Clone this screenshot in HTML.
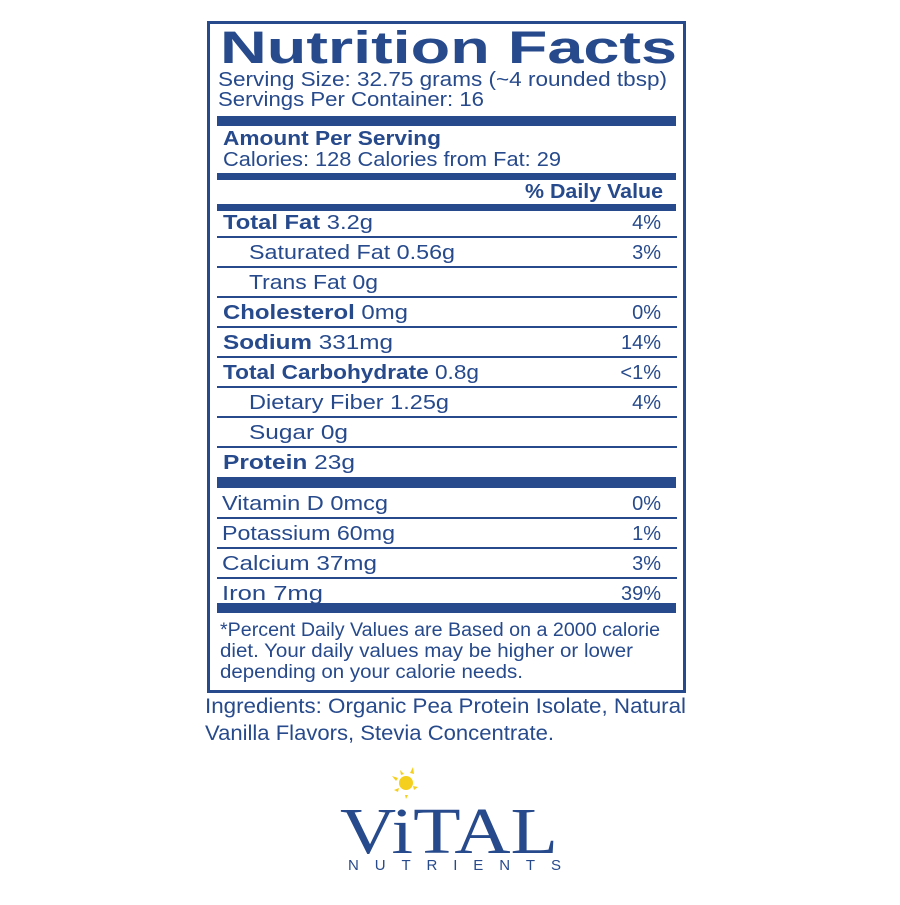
<!DOCTYPE html>
<html><head><style>html,body{margin:0;padding:0;background:#fff}</style></head>
<body>
<svg width="900" height="900" xmlns="http://www.w3.org/2000/svg" font-family="'Liberation Sans', sans-serif" fill="#274a8c" xml:space="preserve">
<rect x="0" y="0" width="900" height="900" fill="#fff"/>
<rect x="208.5" y="22.5" width="476" height="669" fill="none" stroke="#274a8c" stroke-width="3"/>
<text x="220" y="63" font-size="45" font-weight="bold" textLength="457" lengthAdjust="spacingAndGlyphs">Nutrition Facts</text>
<text x="218" y="86" font-size="20" textLength="449" lengthAdjust="spacingAndGlyphs">Serving Size: 32.75 grams (~4 rounded tbsp)</text>
<text x="218" y="106" font-size="20" textLength="266" lengthAdjust="spacingAndGlyphs">Servings Per Container: 16</text>
<rect x="217" y="116" width="459" height="10"/>
<text x="223" y="145" font-size="20" font-weight="bold" textLength="218" lengthAdjust="spacingAndGlyphs">Amount Per Serving</text>
<text x="223" y="166" font-size="20" textLength="338" lengthAdjust="spacingAndGlyphs">Calories: 128 Calories from Fat: 29</text>
<rect x="217" y="173" width="459" height="7"/>
<text x="663" y="198" font-size="20" font-weight="bold" text-anchor="end" textLength="138" lengthAdjust="spacingAndGlyphs">% Daily Value</text>
<rect x="217" y="204" width="459" height="7"/>
<g font-size="20">
<text x="223" y="229" textLength="150" lengthAdjust="spacingAndGlyphs"><tspan font-weight="bold">Total Fat</tspan>  3.2g</text><text x="661" y="229" text-anchor="end">4%</text>
<text x="249" y="259" textLength="206" lengthAdjust="spacingAndGlyphs">Saturated Fat  0.56g</text><text x="661" y="259" text-anchor="end">3%</text>
<text x="249" y="289" textLength="129" lengthAdjust="spacingAndGlyphs">Trans Fat  0g</text>
<text x="223" y="319" textLength="185" lengthAdjust="spacingAndGlyphs"><tspan font-weight="bold">Cholesterol</tspan>  0mg</text><text x="661" y="319" text-anchor="end">0%</text>
<text x="223" y="349" textLength="170" lengthAdjust="spacingAndGlyphs"><tspan font-weight="bold">Sodium</tspan>  331mg</text><text x="661" y="349" text-anchor="end">14%</text>
<text x="223" y="379" textLength="256" lengthAdjust="spacingAndGlyphs"><tspan font-weight="bold">Total Carbohydrate</tspan> 0.8g</text><text x="661" y="379" text-anchor="end">&lt;1%</text>
<text x="249" y="409" textLength="200" lengthAdjust="spacingAndGlyphs">Dietary Fiber  1.25g</text><text x="661" y="409" text-anchor="end">4%</text>
<text x="249" y="439" textLength="99" lengthAdjust="spacingAndGlyphs">Sugar  0g</text>
<text x="223" y="469" textLength="132" lengthAdjust="spacingAndGlyphs"><tspan font-weight="bold">Protein</tspan>  23g</text>
<text x="222" y="510" textLength="166" lengthAdjust="spacingAndGlyphs">Vitamin D  0mcg</text><text x="661" y="510" text-anchor="end">0%</text>
<text x="222" y="540" textLength="173" lengthAdjust="spacingAndGlyphs">Potassium  60mg</text><text x="661" y="540" text-anchor="end">1%</text>
<text x="222" y="570" textLength="155" lengthAdjust="spacingAndGlyphs">Calcium  37mg</text><text x="661" y="570" text-anchor="end">3%</text>
<text x="222" y="600" textLength="101" lengthAdjust="spacingAndGlyphs">Iron  7mg</text><text x="661" y="600" text-anchor="end">39%</text>
</g>
<g fill="#274a8c">
<rect x="217" y="236" width="460" height="2"/>
<rect x="217" y="266" width="460" height="2"/>
<rect x="217" y="296" width="460" height="2"/>
<rect x="217" y="326" width="460" height="2"/>
<rect x="217" y="356" width="460" height="2"/>
<rect x="217" y="386" width="460" height="2"/>
<rect x="217" y="416" width="460" height="2"/>
<rect x="217" y="446" width="460" height="2"/>
<rect x="217" y="477" width="459" height="11"/>
<rect x="217" y="517" width="460" height="2"/>
<rect x="217" y="547" width="460" height="2"/>
<rect x="217" y="577" width="460" height="2"/>
<rect x="217" y="603" width="459" height="10"/>
</g>
<g font-size="19">
<text x="220" y="636" textLength="440" lengthAdjust="spacingAndGlyphs">*Percent Daily Values are Based on a 2000 calorie</text>
<text x="220" y="657" textLength="413" lengthAdjust="spacingAndGlyphs">diet.  Your daily values may be higher or lower</text>
<text x="220" y="678" textLength="303" lengthAdjust="spacingAndGlyphs">depending on your calorie needs.</text>
</g>
<g font-size="21">
<text x="205" y="713" textLength="481" lengthAdjust="spacingAndGlyphs">Ingredients: Organic Pea Protein Isolate, Natural</text>
<text x="205" y="740" textLength="349" lengthAdjust="spacingAndGlyphs">Vanilla Flavors, Stevia Concentrate.</text>
</g>
<g fill="#f5cf1e">
<circle cx="406" cy="783" r="7"/>
<polygon points="392,776 398,778 396,781"/>
<polygon points="400,770 404,774 401,775"/>
<polygon points="413,767 414,774 410,773"/>
<polygon points="418,787 414,790 413,786"/>
<polygon points="394,790 399,788 398,792"/>
<polygon points="405,795 408,795 406,799"/>
</g>
<text x="340" y="853" font-family="'Liberation Serif', serif" font-size="66" textLength="218" lengthAdjust="spacingAndGlyphs">ViTAL</text>
<text x="348" y="870" font-size="15" textLength="213" lengthAdjust="spacing">NUTRIENTS</text>
</svg>
</body></html>
